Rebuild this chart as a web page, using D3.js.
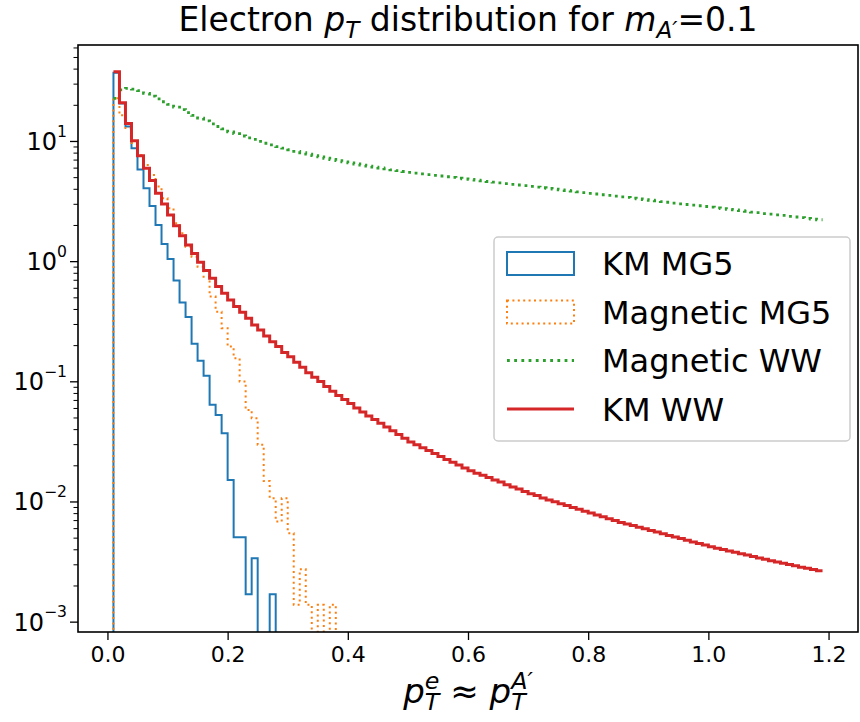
<!DOCTYPE html>
<html>
<head>
<meta charset="utf-8">
<script src="https://cdn.jsdelivr.net/npm/d3@7"></script>
<style>
  body { margin: 0; background: #fff; }
  text { font-family: "DejaVu Sans", sans-serif; fill: #000; }
</style>
</head>
<body>
<svg id="chart" width="860" height="722"></svg>
<script>
// histogram bins: first left edge and width
var binStart = 0.01, binWidth = 0.01;

var kmMG5 = [37, 20.5, 13.2, 8.7, 5.8, 4.04, 2.88, 2.0, 1.39, 1.04,
  0.689, 0.452, 0.343, 0.205, 0.148, 0.111, 0.0637, 0.0525, 0.037, 0.0151,
  0.00505, 0.00505, 0.00169, 0.00337, 0, 0, 0.00169];

var magMG5 = [22.7, 16.4, 12.8, 9.6, 7.6, 6.3, 5.2, 4.17, 3.33, 2.75,
  2.07, 1.71, 1.32, 1.09, 0.90, 0.743, 0.507, 0.38, 0.277, 0.1945,
  0.1556, 0.0995, 0.0578, 0.0493, 0.0296, 0.0148, 0.01064, 0.00681, 0.01064, 0.00545,
  0.00138, 0.00273, 0.00138, 0, 0.00138, 0, 0.00138];

var magWW = [22.6, 26.6, 27.4, 27.0, 26.2, 24.9, 23.6, 22.4, 21.2, 20.2,
  19.1, 18.2, 17.2, 16.3, 15.5, 14.7, 13.9, 13.2, 12.6, 11.9,
  11.5, 11.0, 10.6, 10.3, 9.91, 9.57, 9.27, 8.97, 8.71, 8.45,
  8.20, 7.98, 7.76, 7.55, 7.36, 7.18, 7.01, 6.85, 6.70, 6.56,
  6.43, 6.30, 6.18, 6.07, 5.96, 5.85, 5.75, 5.66, 5.57, 5.48,
  5.40, 5.32, 5.25, 5.18, 5.11, 5.04, 4.97, 4.90, 4.84, 4.79,
  4.72, 4.66, 4.60, 4.54, 4.48, 4.42, 4.36, 4.30, 4.25, 4.19,
  4.13, 4.08, 4.03, 3.97, 3.92, 3.87, 3.82, 3.77, 3.72, 3.67,
  3.62, 3.57, 3.53, 3.48, 3.43, 3.39, 3.34, 3.30, 3.25, 3.21,
  3.17, 3.13, 3.09, 3.04, 3.00, 2.96, 2.93, 2.89, 2.85, 2.81,
  2.77, 2.74, 2.70, 2.67, 2.63, 2.60, 2.56, 2.53, 2.49, 2.46,
  2.43, 2.40, 2.36, 2.33, 2.30, 2.27, 2.24, 2.21];

var kmWW = [37.7, 20.8, 14.0, 10.06, 7.55, 5.92, 4.68, 3.67, 2.99, 2.42,
  1.97, 1.63, 1.36, 1.16, 0.98, 0.834, 0.721, 0.614, 0.541, 0.476,
  0.42, 0.375, 0.335, 0.294, 0.267, 0.238, 0.213, 0.195, 0.174, 0.16,
  0.144, 0.131, 0.118, 0.108, 0.0995, 0.0906, 0.0825, 0.0762, 0.0706, 0.0654,
  0.060, 0.0555, 0.0515, 0.0480, 0.0447, 0.0416, 0.0387, 0.0361, 0.0336, 0.0313,
  0.0296, 0.0280, 0.0265, 0.0251, 0.0237, 0.0224, 0.0212, 0.0201, 0.0190, 0.0180,
  0.0172, 0.0165, 0.0158, 0.0151, 0.0145, 0.0138, 0.0132, 0.0127, 0.0121, 0.0116,
  0.0112, 0.0107, 0.0103, 0.00993, 0.00957, 0.00925, 0.00891, 0.00861, 0.00830, 0.00802,
  0.00773, 0.00746, 0.00719, 0.00695, 0.00670, 0.00650, 0.00630, 0.00611, 0.00592, 0.00574,
  0.00556, 0.00540, 0.00522, 0.00507, 0.00491, 0.00476, 0.00461, 0.00448, 0.00434, 0.00421,
  0.00409, 0.00398, 0.00388, 0.00378, 0.00367, 0.00358, 0.00348, 0.00339, 0.00330, 0.00321,
  0.00313, 0.00306, 0.00299, 0.00292, 0.00284, 0.00278, 0.00271, 0.00265];

var xTicks = [0.0, 0.2, 0.4, 0.6, 0.8, 1.0, 1.2];
var yTicks = [1e-3, 1e-2, 1e-1, 1e0, 1e1];
var yExponents = ["\u22123", "\u22122", "\u22121", "0", "1"];
var legendNames = ["KM MG5", "Magnetic MG5", "Magnetic WW", "KM WW"];

var colors = {blue: "#1f77b4", orange: "#ff7f0e", green: "#2ca02c", red: "#d62728"};

var svg = d3.select("#chart");
var plot = {left: 78, right: 858, top: 45, bottom: 632};

var x = d3.scaleLinear().domain([-0.049, 1.249]).range([plot.left, plot.right]);
var y = d3.scaleLog().domain([8.2e-4, 62.9]).range([plot.bottom, plot.top]);
var yFloor = 1e-5;

svg.append("clipPath").attr("id", "plotclip")
  .append("rect")
  .attr("x", plot.left).attr("y", plot.top)
  .attr("width", plot.right - plot.left).attr("height", plot.bottom - plot.top);

// step outline; closed=true drops to the floor at both ends (histtype='step')
function stepPoints(values, closed) {
  var pts = closed ? [[binStart, yFloor]] : [];
  values.forEach(function(v, i) {
    var lo = binStart + i * binWidth, hi = lo + binWidth;
    var vv = v > 0 ? v : yFloor;
    pts.push([lo, vv]);
    pts.push([hi, vv]);
  });
  if (closed) pts.push([binStart + values.length * binWidth, yFloor]);
  return pts;
}

var line = d3.line()
  .x(function(d) { return x(d[0]); })
  .y(function(d) { return y(d[1]); });

var series = [
  {data: kmMG5, color: colors.blue, width: 2, dash: null, closed: true},
  {data: magMG5, color: colors.orange, width: 2, dash: "2,3.4", closed: true},
  {data: magWW, color: colors.green, width: 2.8, dash: "2.8,4.4", closed: false},
  {data: kmWW, color: colors.red, width: 3, dash: null, closed: false}
];

var gData = svg.append("g").attr("clip-path", "url(#plotclip)");
series.forEach(function(s) {
  gData.append("path")
    .attr("d", line(stepPoints(s.data, s.closed)))
    .attr("fill", "none")
    .attr("stroke", s.color)
    .attr("stroke-width", s.width)
    .attr("stroke-dasharray", s.dash)
    .attr("stroke-linejoin", "miter");
});

// x axis
var xAxis = d3.axisBottom(x).tickValues(xTicks).tickSize(8).tickPadding(6)
  .tickFormat(d3.format(".1f"));
var gx = svg.append("g").attr("transform", "translate(0," + plot.bottom + ")").call(xAxis);
gx.select(".domain").remove();
gx.selectAll(".tick line").attr("stroke", "#000").attr("stroke-width", 1.3);
gx.selectAll(".tick text").attr("font-size", 22).attr("font-family", "DejaVu Sans");

// y axis, major + minor ticks
var yAxis = d3.axisLeft(y).tickValues(yTicks).tickSize(8).tickFormat("");
var gy = svg.append("g").attr("transform", "translate(" + plot.left + ",0)").call(yAxis);
gy.select(".domain").remove();
gy.selectAll(".tick line").attr("stroke", "#000").attr("stroke-width", 1.3);

var minorTicks = [];
yTicks.concat([1e2]).forEach(function(d) {
  for (var m = 2; m < 10; m++) {
    var v = d * m;
    if (v >= y.domain()[0] && v <= y.domain()[1]) minorTicks.push(v);
  }
});
var gyMinor = svg.append("g").attr("transform", "translate(" + plot.left + ",0)")
  .call(d3.axisLeft(y).tickValues(minorTicks).tickSize(4.5).tickFormat(""));
gyMinor.select(".domain").remove();
gyMinor.selectAll(".tick line").attr("stroke", "#000").attr("stroke-width", 1);

yTicks.forEach(function(d, i) {
  var t = svg.append("text")
    .attr("x", plot.left - 11)
    .attr("y", y(d) + 9)
    .attr("text-anchor", "end")
    .attr("font-size", 24);
  t.append("tspan").text("10");
  t.append("tspan").attr("font-size", "65%").attr("dy", "-0.85em").text(yExponents[i]);
});

// frame
svg.append("rect")
  .attr("x", plot.left).attr("y", plot.top)
  .attr("width", plot.right - plot.left).attr("height", plot.bottom - plot.top)
  .attr("fill", "none").attr("stroke", "#000").attr("stroke-width", 1.6);

// small mathtext helper: one <text>, each piece a tspan with absolute x/y,
// stacked super/subscripts share the same x; the whole thing is centred
function measure(str, size, italic) {
  var t = svg.append("text").attr("font-size", size)
    .attr("font-style", italic ? "italic" : "normal")
    .attr("xml:space", "preserve").text(str);
  var w = t.node().getComputedTextLength();
  t.remove();
  return w;
}

function mathLabel(cx, baseY, size, pieces) {
  var items = [], cursor = 0;
  pieces.forEach(function(p) {
    if (p.stack) {
      var w = 0;
      p.stack.forEach(function(q) {
        items.push({t: q.t, x: cursor, dy: q.shift * size, fs: size * 0.7, italic: q.italic});
        w = Math.max(w, measure(q.t, size * 0.7, q.italic));
      });
      cursor += w;
    } else {
      var fs = p.sub ? size * 0.7 : size;
      items.push({t: p.t, x: cursor, dy: (p.shift || 0) * size, fs: fs, italic: p.italic});
      cursor += measure(p.t, fs, p.italic);
    }
  });
  var x0 = cx - cursor / 2;
  var t = svg.append("text").attr("xml:space", "preserve").attr("font-size", size);
  items.forEach(function(it) {
    t.append("tspan")
      .attr("x", x0 + it.x).attr("y", baseY + it.dy)
      .attr("font-size", it.fs)
      .attr("font-style", it.italic ? "italic" : "normal")
      .text(it.t);
  });
  return t;
}

var midX = (plot.left + plot.right) / 2;

mathLabel(midX, 31, 33, [
  {t: "Electron "},
  {t: "p", italic: true},
  {t: "T", italic: true, sub: true, shift: 0.2},
  {t: " distribution for "},
  {t: "m", italic: true},
  {t: "A\u2032", italic: true, sub: true, shift: 0.2},
  {t: "=0.1"}
]);

mathLabel(midX, 703, 34, [
  {t: "p", italic: true},
  {stack: [{t: "e", italic: true, shift: -0.42}, {t: "T", italic: true, shift: 0.22}]},
  {t: " \u2248 "},
  {t: "p", italic: true},
  {stack: [{t: "A\u2032", italic: true, shift: -0.42}, {t: "T", italic: true, shift: 0.22}]}
]);

// legend
var leg = svg.append("g");
leg.append("rect")
  .attr("x", 494).attr("y", 237).attr("width", 356).attr("height", 204)
  .attr("rx", 4).attr("fill", "#fff").attr("fill-opacity", 0.8)
  .attr("stroke", "#cccccc").attr("stroke-width", 1.5);

var legRows = [
  {kind: "patch", s: series[0]},
  {kind: "patch", s: series[1]},
  {kind: "line", s: series[2]},
  {kind: "line", s: series[3]}
];
var rowY = d3.scalePoint().domain(legendNames).range([263.5, 409]);
legRows.forEach(function(r, i) {
  var cy = rowY(legendNames[i]);
  if (r.kind === "patch") {
    leg.append("rect")
      .attr("x", 507).attr("y", cy - 11.5).attr("width", 67).attr("height", 23)
      .attr("fill", "none").attr("stroke", r.s.color)
      .attr("stroke-width", r.s.width).attr("stroke-dasharray", r.s.dash);
  } else {
    leg.append("line")
      .attr("x1", 507).attr("x2", 574).attr("y1", cy).attr("y2", cy)
      .attr("stroke", r.s.color).attr("stroke-width", r.s.width)
      .attr("stroke-dasharray", r.s.dash);
  }
  leg.append("text").attr("x", 602).attr("y", cy + 11.5)
    .attr("font-size", 32).text(legendNames[i]);
});
</script>
</body>
</html>
